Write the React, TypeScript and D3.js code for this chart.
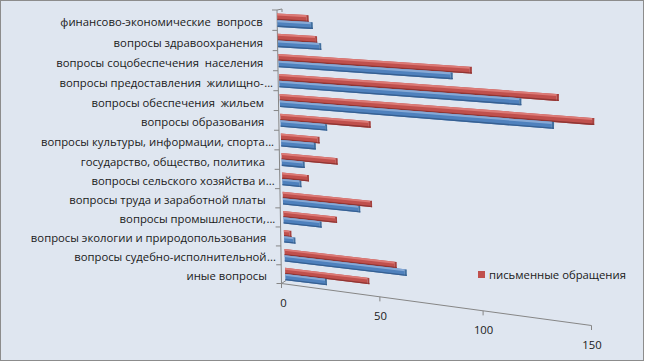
import React from "react";
import * as d3 from "d3";

const categories = [
  "финансово-экономические  вопросв",
  "вопросы здравоохранения",
  "вопросы соцобеспечения  населения",
  "вопросы предоставления  жилищно-...",
  "вопросы обеспечения  жильем",
  "вопросы образования",
  "вопросы культуры, информации, спорта...",
  "государство, общество, политика",
  "вопросы сельского хозяйства и...",
  "вопросы труда и заработной платы",
  "вопросы промышлености,...",
  "вопросы экологии и природопользования",
  "вопросы судебно-исполнительной...",
  "иные вопросы",
];

// письменные обращения (red, upper bar of each pair)
const writtenValues = [15, 19, 94, 134, 150, 45, 19, 28, 13, 45, 27, 3, 57, 43];
// устные обращения (blue, lower bar)
const oralValues = [17, 21, 85, 117, 132, 23, 17, 11, 9, 39, 19, 5, 62, 21];

const valueTicks = [0, 50, 100, 150];
const legendLabel = "письменные обращения";

const FONT = "'Open Sans', sans-serif";

// corners of the perspective plane the bars sit in
const TL = [277, 10];
const TR = [594, 27.4];
const BR = [588, 321];
const BL = [285.5, 283.3];

function makeHomography(p0, p1, p2, p3) {
  const [x0, y0] = p0, [x1, y1] = p1, [x2, y2] = p2, [x3, y3] = p3;
  const dx1 = x1 - x2, dx2 = x3 - x2, dx3 = x0 - x1 + x2 - x3;
  const dy1 = y1 - y2, dy2 = y3 - y2, dy3 = y0 - y1 + y2 - y3;
  const den = dx1 * dy2 - dx2 * dy1;
  const g = (dx3 * dy2 - dx2 * dy3) / den;
  const h = (dx1 * dy3 - dx3 * dy1) / den;
  const a = x1 - x0 + g * x1, b = x3 - x0 + h * x3, c = x0;
  const d = y1 - y0 + g * y1, e = y3 - y0 + h * y3, f = y0;
  return (u, v) => {
    const w = g * u + h * v + 1;
    return [(a * u + b * v + c) / w, (d * u + e * v + f) / w];
  };
}

const P = makeHomography(TL, TR, BR, BL);

// front edge (wall / floor) sits a little off the bar plane
const front = (u, r) => {
  const [x, y] = P(u, r);
  return [x + r * (-4 * (1 - u) + 3.5 * u), y + r * (0.2 * (1 - u) + 4.5 * u)];
};

const xScale = d3.scaleLinear().domain([0, 150]).range([0, 1]);
const yScale = d3.scaleBand().domain(categories).range([0, 1]);

const pts = (arr) => arr.map((p) => p.map((n) => n.toFixed(2)).join(",")).join(" ");
const strip = (u0, u1, rA, rB) => pts([P(u0, rA), P(u1, rA), P(u1, rB), P(u0, rB)]);

const red = { top: "#dc7a76", main: "#c0504d", bottom: "#8f3533", cap: "#a8413e" };
const blue = { top: "#86a9d6", main: "#4f81bd", bottom: "#365f91", cap: "#42709f" };

function Bar({ value, r1, r2, col }) {
  const u = xScale(value);
  const t = r2 - r1;
  const e = 0.0065;
  return (
    <g>
      <polygon points={strip(0, u, r1, r2)} fill={col.main} />
      <polygon points={strip(0, u, r1, r1 + 0.3 * t)} fill={col.top} />
      <polygon points={strip(0, u, r2 - 0.2 * t, r2)} fill={col.bottom} />
      <polygon points={strip(u, u + e, r1, r2)} fill={col.cap} />
      <polygon points={strip(u, u + e, r2 - 0.2 * t, r2)} fill={col.bottom} />
    </g>
  );
}

export default function App() {
  const bw = yScale.bandwidth();
  const axisColor = "#868686";
  const textColor = "#1a1a1a";
  const [a0x, a0y] = front(0, 0);
  const [a1x, a1y] = front(0, 1);
  const [f1x, f1y] = front(1, 1);
  return (
    <svg width={645} height={362} style={{ position: "absolute", left: 0, top: 0 }}
      fontFamily={FONT} fontSize={11.3}>
      <rect x={0.5} y={0.5} width={643} height={360} fill="#dfe6f0" stroke="#8c8c8c" />

      {/* wall line + category ticks */}
      <line x1={a0x} y1={a0y} x2={a1x} y2={a1y} stroke={axisColor} />
      <polyline points={pts([[a0x, a0y], [a0x + 5, a0y - 1], [a0x + 5, a0y + 2]])} fill="none" stroke={axisColor} />
      {d3.range(categories.length + 1).map((i) => {
        const [x, y] = front(0, i / categories.length);
        return <line key={i} x1={x - 5} y1={y} x2={x} y2={y} stroke={axisColor} />;
      })}

      {/* floor front edge + value ticks */}
      <line x1={a1x} y1={a1y} x2={f1x} y2={f1y} stroke={axisColor} />
      <line x1={a1x} y1={a1y} x2={a1x + 4.5} y2={a1y - 3} stroke={axisColor} />
      {valueTicks.map((v) => {
        const [x, y] = front(xScale(v), 1);
        return (
          <g key={v}>
            <line x1={x} y1={y} x2={x} y2={y + 4.5} stroke={axisColor} />
            <text x={x + (v === 0 ? 2 : 0.5)} y={y + 18.5} textAnchor="middle" dominantBaseline="central" fill={textColor}>{v}</text>
          </g>
        );
      })}

      {/* bars */}
      {categories.map((c, i) => {
        const b = yScale(c);
        return (
          <g key={c}>
            <Bar value={writtenValues[i]} r1={b + 0.17 * bw} r2={b + 0.5 * bw} col={red} />
            <Bar value={oralValues[i]} r1={b + 0.5 * bw} r2={b + 0.83 * bw} col={blue} />
          </g>
        );
      })}

      {/* category labels */}
      {categories.map((c) => {
        const [x, y] = front(0, yScale(c) + bw / 2);
        const cut = c.endsWith("...");
        const main = cut ? c.slice(0, -3) : c;
        return (
          <g key={c}>
            <text xmlSpace="preserve" x={x - 14.5} y={y + 1.5} textAnchor="end" dominantBaseline="central" fill={textColor}>{main}</text>
            {cut && <text x={x - 14} y={y + 1.5} dominantBaseline="central" fill={textColor}>...</text>}
          </g>
        );
      })}

      {/* legend */}
      <rect x={478} y={271} width={7} height={7} fill={red.main} />
      <text x={489} y={274.5} dominantBaseline="central" fill={textColor}>{legendLabel}</text>
    </svg>
  );
}
